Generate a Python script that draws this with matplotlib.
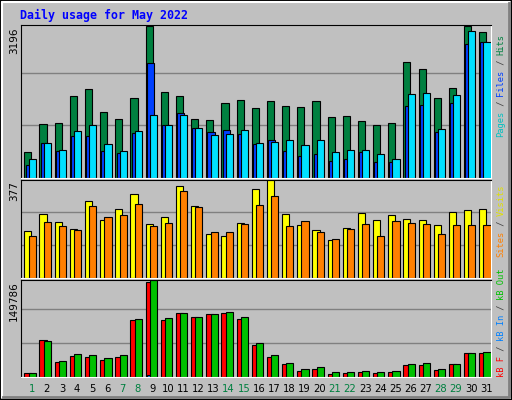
import matplotlib
matplotlib.use("Agg")
import matplotlib.pyplot as plt
from matplotlib.patches import Rectangle
from matplotlib.lines import Line2D

days = list(range(1, 32))
weekend = [1, 7, 8, 14, 15, 21, 22, 28, 29]
hits = [550,1135,1157,1721,1873,1396,1244,1678,3196,1808,1721,1244,1222,1569,1634,1461,1612,1504,1482,1612,1287,1309,1200,1114,1157,2437,2285,1678,1894,3196,3066]
files = [268,745,571,875,875,571,528,940,2415,1114,1374,1048,962,1005,918,723,788,571,463,506,354,398,550,333,333,1504,1526,962,1569,2806,2849]
pages = [398,745,593,983,1114,723,571,983,1330,1114,1330,1048,897,918,1005,745,766,788,701,788,550,593,593,506,398,1764,1786,1027,1743,3088,2849]
visits = [180,246,217,189,299,225,266,324,209,234,357,279,172,164,213,344,377,246,205,184,148,193,250,225,242,229,225,205,254,262,266]
sites = [164,217,201,184,279,234,242,287,201,213,336,275,176,176,209,283,316,201,221,176,152,189,209,164,221,213,209,172,205,205,205]
kb_f = [6584,58162,23045,32922,31276,26338,31276,88889,148149,88889,98766,93828,97120,98766,90536,49383,31276,19753,9877,13169,4938,6584,8231,6584,8231,18107,18107,11523,19753,37860,37860]
kb_out = [6584,55967,24692,36214,34568,29630,34568,90536,149786,92182,98766,93828,97120,100412,93828,52676,34568,21399,13169,14815,8231,8231,9877,8231,9877,19753,21399,13169,19753,37860,39506]
kb_in = [300]*8 + [2500] + [300]*22

W, H = 512, 400
BG = "#C0C0C0"
fig = plt.figure(figsize=(W/100, H/100), dpi=100, facecolor=BG)

def ax_px(x0, y0, x1, y1):
    return fig.add_axes([x0/W, 1-y1/H, (x1-x0)/W, (y1-y0)/H])

def style(ax, ymax, grid_fracs):
    ax.set_facecolor(BG)
    ax.set_xlim(0.5, 31.5)
    ax.set_ylim(0, ymax*1.005)
    ax.set_xticks([]); ax.set_yticks([])
    for s in ("top", "left"):
        ax.spines[s].set_color("black")
    for s in ("bottom", "right"):
        ax.spines[s].set_color("white")
    for g in grid_fracs:
        ax.axhline(ymax*g, color="#808080", lw=1, zorder=0)

kw = dict(edgecolor="black", linewidth=0.8, align="edge")
d0 = [d-0.5 for d in days]

ax1 = ax_px(21, 25, 491, 178)
style(ax1, 3196, [0.345, 0.69])
ax1.bar([d+0.22 for d in d0], hits, 0.47, color="#008040", **kw)
ax1.bar([d+0.30 for d in d0], files, 0.47, color="#0040FF", **kw)
ax1.bar([d+0.50 for d in d0], pages, 0.47, color="#00E0FF", **kw)

ax2 = ax_px(21, 180, 491, 278)
style(ax2, 377, [0.34, 0.68])
ax2.bar([d+0.22 for d in d0], visits, 0.47, color="#FFFF00", **kw)
ax2.bar([d+0.50 for d in d0], sites, 0.47, color="#FF8000", **kw)

ax3 = ax_px(21, 280, 491, 377)
style(ax3, 149786, [0.35, 0.70])
ax3.bar([d+0.22 for d in d0], kb_f, 0.47, color="#FF0000", **kw)
ax3.bar([d+0.30 for d in d0], kb_in, 0.3, color="#0080FF", **kw)
ax3.bar([d+0.50 for d in d0], kb_out, 0.47, color="#00C000", **kw)

def fx(x): return x/W
def fy(y): return 1-y/H

fig.text(fx(20), fy(15), "Daily usage for May 2022", color="#0000FF",
         family="DejaVu Sans Mono", weight="bold", fontsize=8.4, va="center")

for lbl, yt in (("3196", 28), ("377", 181), ("149786", 281)):
    fig.text(fx(14), fy(yt), lbl, rotation=90, ha="center", va="top",
             fontsize=7.5, color="black")

for d in days:
    fig.text(fx(21 + (d-0.5)*470/31 + 3), fy(389), str(d), ha="center", va="center",
             fontsize=7.2, color="#008040" if d in weekend else "black")

def vlabel(x, ybottom, pieces, pitch=5.15):
    y = ybottom
    for txt, col in pieces:
        fig.text(fx(x), fy(y), txt, rotation=90, ha="center", va="bottom",
                 color=col, family="DejaVu Sans Mono", fontsize=6.3)
        y -= len(txt)*pitch

vlabel(501, 137, [("Pages", "#00C0C0"), (" / ", "#404040"), ("Files", "#0040FF"),
                  (" / ", "#404040"), ("Hits", "#008040")])
vlabel(501, 257, [("Sites", "#FF8000"), (" / ", "#404040"), ("Visits", "#E0E000")])
vlabel(501, 377, [("kB F", "#FF0000"), (" / ", "#404040"), ("kB In", "#0080FF"),
                  (" / ", "#404040"), ("kB Out", "#00C000")])

# 3D border
fig.add_artist(Rectangle((0, 0), 1, 1, transform=fig.transFigure, fill=False,
                         edgecolor="black", lw=1.5))
fig.add_artist(Line2D([fx(2), fx(2), fx(509)], [fy(397), fy(2), fy(2)],
                      transform=fig.transFigure, color="white", lw=1.5))
fig.add_artist(Line2D([fx(3), fx(509), fx(509)], [fy(397), fy(397), fy(3)],
                      transform=fig.transFigure, color="#808080", lw=2))

fig.savefig("out.png", dpi=100, facecolor=BG)
